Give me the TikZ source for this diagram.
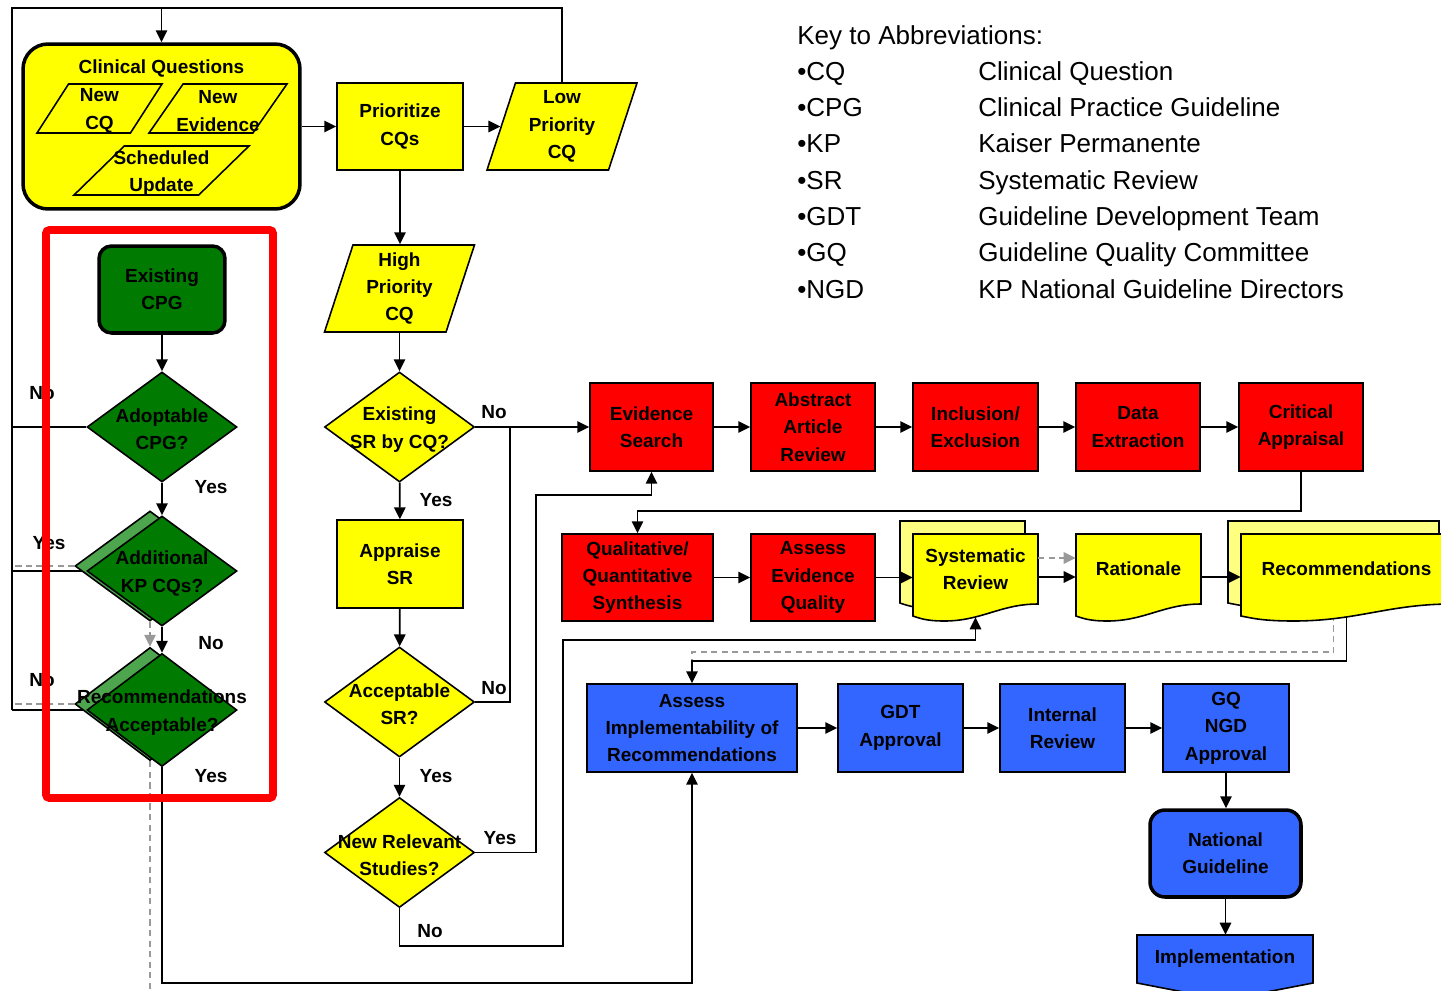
\documentclass[tikz,border=0pt]{standalone}
\usepackage{fontspec}
\setmainfont{Liberation Sans}
\usetikzlibrary{arrows.meta,shapes.geometric,backgrounds}
\definecolor{kpyellow}{RGB}{255,255,0}
\definecolor{kpyellowlt}{RGB}{255,255,128}
\definecolor{kpred}{RGB}{255,0,0}
\definecolor{kpgreen}{RGB}{0,122,0}
\definecolor{kpgreenlt}{RGB}{77,166,77}
\definecolor{kpblue}{RGB}{51,102,255}
\newcommand{\boxfont}{\fontsize{10.8}{15.6}\selectfont\bfseries}
\newcommand{\keyfont}{\fontsize{14.8}{20.6}\selectfont}
% document shape: left, top, width, fill
\newcommand{\docshape}[4]{%
  \filldraw[fill=#4,line width=0.9pt] (#1,#2) -- (#1+#3,#2) -- (#1+#3,#2+70)
    .. controls (#1+0.7*#3,#2+70) and (#1+0.55*#3,#2+87) .. (#1+0.25*#3,#2+87)
    .. controls (#1+0.1*#3,#2+87) and (#1+0.05*#3,#2+84) .. (#1,#2+82) -- cycle;}
\tikzstyle{proc box}=[rectangle,draw,line width=0.9pt,minimum width=2.5cm,minimum height=1.76cm,align=center,font=\boxfont,inner sep=1pt]
\tikzstyle{yellow box}=[proc box,fill=kpyellow]
\tikzstyle{red box}=[proc box,fill=kpred]
\tikzstyle{blue box}=[proc box,fill=kpblue]
\tikzstyle{terminal}=[proc box,rounded corners=0.25cm,line width=2pt]
\tikzstyle{data slant}=[trapezium,trapezium stretches=true,draw,line width=0.9pt,fill=kpyellow,inner sep=2pt,minimum width=3cm,minimum height=1.74cm,trapezium left angle=73,trapezium right angle=107]
\tikzstyle{decision}=[diamond,draw,line width=0.9pt,inner sep=1pt,minimum width=3cm,minimum height=2.2cm]
\tikzstyle{inner text}=[font=\boxfont,align=center,inner sep=0pt]
\tikzstyle{answer}=[font=\boxfont,inner sep=0pt]
\tikzstyle{key text}=[font=\keyfont,anchor=base west,inner sep=0pt]
\tikzstyle{edge}=[draw,line width=1pt,->]
\tikzstyle{plain edge}=[draw,line width=1pt,-]
\tikzstyle{gray line}=[draw,black!40,line width=1pt,dash pattern=on 3.5pt off 2.5pt]
\tikzstyle{gray edge}=[gray line,->]
\tikzstyle{red frame}=[draw=kpred,line width=4.5pt,rounded corners=2pt]

\begin{document}
\begin{tikzpicture}[x=0.02cm,y=-0.02cm,>={Triangle[length=6.8pt,width=6.5pt]}]
  \useasboundingbox (0,0) rectangle (1441,991);
  % clinical questions
  \node[terminal,fill=kpyellow,rounded corners=0.5cm,minimum width=5.54cm,minimum height=3.3cm] (clinq) at (161.5,126.5) {};
  \node[inner text] (cqtitle) at (161.5,68) {Clinical Questions};
  \node[data slant,minimum width=2.5cm,minimum height=0.98cm,trapezium left angle=63,trapezium right angle=117,label={[inner text,yshift=-0.05cm]center:New\\CQ}] (newcq) at (99.5,108.5) {};
  \node[data slant,minimum width=2.76cm,minimum height=0.98cm,trapezium left angle=64,trapezium right angle=116,label={[inner text,yshift=-0.05cm]center:New\\Evidence}] (newev) at (218,108.5) {};
  \node[data slant,minimum width=3.5cm,minimum height=0.98cm,trapezium left angle=56,trapezium right angle=124,label={[inner text,yshift=-0.05cm]center:Scheduled\\Update}] (sched) at (161.5,170.5) {};
  \node[yellow box,minimum width=2.52cm,minimum height=1.74cm] (prior) at (400,126.5) {Prioritize\\CQs};
  \node[data slant,label={[inner text]center:Low\\Priority\\CQ}] (lowp) at (562,126.5) {};
  \node[data slant,label={[inner text]center:High\\Priority\\CQ}] (highp) at (399.5,288.5) {};
  % existing SR
  \node[decision,fill=kpyellow,label={[inner text,yshift=-0.05cm]center:Existing\\SR by CQ?}] (exsr) at (399.5,427) {};
  \node[yellow box,minimum width=2.52cm] (appr) at (400,564) {Appraise\\SR};
  \node[decision,fill=kpyellow,label={[inner text,yshift=-0.05cm]center:Acceptable\\SR?}] (accsr) at (399.5,702) {};
  \node[decision,fill=kpyellow,label={[inner text,yshift=-0.05cm]center:New Relevant\\Studies?}] (newrel) at (399.5,852.5) {};
  % existing CPG
  \node[terminal,fill=kpgreen,minimum width=2.52cm,minimum height=1.74cm] (excpg) at (162,289.5) {Existing\\CPG};
  \node[decision,fill=kpgreen,label={[inner text,yshift=-0.05cm]center:Adoptable\\CPG?}] (adopt) at (162,427) {};
  \node[decision,fill=kpgreenlt] (addsh) at (150,566) {};
  \node[decision,fill=kpgreen,label={[inner text,yshift=-0.05cm]center:Additional\\KP CQs?}] (addkp) at (162,571) {};
  \node[decision,fill=kpgreenlt,minimum height=2.26cm] (recsh) at (150,704) {};
  \node[decision,fill=kpgreen,minimum height=2.26cm,label={[inner text,yshift=-0.05cm]center:Recommendations\\Acceptable?}] (recacc) at (162,710) {};
  % evidence review
  \node[red box,minimum width=2.46cm] (evs) at (651.5,427) {Evidence\\Search};
  \node[red box,minimum width=2.48cm] (abs) at (813,427) {Abstract\\Article\\Review};
  \node[red box] (incl) at (975.5,427) {Inclusion/\\Exclusion};
  \node[red box,minimum width=2.48cm] (data) at (1138,427) {Data\\Extraction};
  \node[red box,minimum width=2.48cm] (crit) at (1301,427) {Critical\\Appraisal};
  \node[red box,minimum width=3.02cm,minimum height=1.74cm] (synth) at (637.5,577.5) {Qualitative/\\Quantitative\\Synthesis};
  \node[red box,minimum width=2.48cm,minimum height=1.74cm] (aeq) at (813,577.5) {Assess\\Evidence\\Quality};
  \docshape{900}{521}{125}{kpyellowlt}
  \docshape{913}{534}{125}{kpyellow}
  \node[inner text,minimum width=2.5cm,minimum height=1.4cm] (sysrev) at (975.5,569) {Systematic\\Review};
  \docshape{1076}{534}{125}{kpyellow}
  \node[inner text,minimum width=2.5cm,minimum height=1.4cm] (rat) at (1138.5,569) {Rationale};
  \begin{scope}
    \clip (0,0) rectangle (1441,991);
    \docshape{1228}{521}{211}{kpyellowlt}
    \docshape{1241}{534}{211}{kpyellow}
    \filldraw[fill=kpblue,line width=0.9pt] (1137,935) -- (1313,935) -- (1313,983) -- (1225,1000) -- (1137,983) -- cycle;
  \end{scope}
  \node[inner text,minimum width=4.22cm,minimum height=1.4cm] (recs) at (1346.5,569) {Recommendations};
  % approval
  \node[blue box,minimum width=4.2cm] (impl) at (692,728) {Assess\\Implementability of\\Recommendations};
  \node[blue box] (gdt) at (900.5,728) {GDT\\Approval};
  \node[blue box] (intrev) at (1062.5,728) {Internal\\Review};
  \node[blue box,minimum width=2.52cm] (gqngd) at (1226,728) {GQ\\NGD\\Approval};
  \node[terminal,fill=kpblue,rounded corners=0.3cm,minimum width=3.02cm,minimum height=1.74cm] (natg) at (1225.5,853.5) {National\\Guideline};
  \node[inner text,minimum width=3.52cm,minimum height=0.96cm] (implm) at (1225,959) {Implementation};
  % answers
  \node[answer] (no1) at (42,393) {No};
  \node[answer] (yes1) at (211,487) {Yes};
  \node[answer] (yes2) at (49,543) {Yes};
  \node[answer] (no2) at (211,643) {No};
  \node[answer] (no3) at (42,680) {No};
  \node[answer] (yes3) at (211,776) {Yes};
  \node[answer] (no4) at (494,412) {No};
  \node[answer] (yes4) at (436,500) {Yes};
  \node[answer] (no5) at (494,688) {No};
  \node[answer] (yes5) at (436,776) {Yes};
  \node[answer] (yes6) at (500,838) {Yes};
  \node[answer] (no6) at (430,931) {No};
  % key
  \node[key text] (keyhead) at (797,44) {Key to Abbreviations:};
  \node[key text] (abcq) at (797,80) {•CQ};
  \node[key text] (decq) at (978,80) {Clinical Question};
  \node[key text] (abcpg) at (797,116) {•CPG};
  \node[key text] (decpg) at (978,116) {Clinical Practice Guideline};
  \node[key text] (abkp) at (797,152) {•KP};
  \node[key text] (dekp) at (978,152) {Kaiser Permanente};
  \node[key text] (absr) at (797,189) {•SR};
  \node[key text] (desr) at (978,189) {Systematic Review};
  \node[key text] (abgdt) at (797,225) {•GDT};
  \node[key text] (degdt) at (978,225) {Guideline Development Team};
  \node[key text] (abgq) at (797,261) {•GQ};
  \node[key text] (degq) at (978,261) {Guideline Quality Committee};
  \node[key text] (abngd) at (797,298) {•NGD};
  \node[key text] (dengd) at (978,298) {KP National Guideline Directors};

  \begin{scope}[on background layer]
    % loop back to clinical questions
    \coordinate (tl) at (12,8);
    \draw[edge] (lowp.north -| lowp.center) |- (tl -| clinq.north) -- (clinq.north);
    \draw[plain edge] (tl -| clinq.north) -- (tl) -- (tl |- recacc.west);
    \draw[plain edge] (adopt.west) -- (adopt.west -| tl);
    \draw[plain edge] (addkp.west) -- (addkp.west -| tl);
    \draw[plain edge] (recacc.west) -- (recacc.west -| tl);
    \draw[gray line] (addsh.west) -- (addsh.west -| tl);
    \draw[gray line] (recsh.west) -- (recsh.west -| tl);
    \draw[gray edge] (addsh.south) -- (recsh.north);
    \draw[gray line] (recsh.south) -- ++(0,240);
    \draw[edge] (excpg) -- (adopt);
    \draw[edge] (adopt) -- (addkp);
    \draw[edge] (addkp) -- (recacc);
    \draw[edge] (recacc.south) -- ++(0,216) -| (impl.south);
    % priority
    \draw[edge] (clinq) -- (prior);
    \draw[edge] (prior) -- (lowp);
    \draw[edge] (prior) -- (prior |- highp.north);
    \draw[edge] (highp.south -| exsr) -- (exsr);
    \draw[edge] (exsr) -- (evs);
    \draw[edge] (exsr) -- (appr);
    \draw[edge] (appr) -- (accsr);
    \draw[edge] (accsr) -- (newrel);
    \coordinate (nojoin) at (510,427);
    \draw[plain edge] (accsr.east) -| (nojoin);
    \draw[edge] (newrel.east) -| (536,495) -| (evs.south);
    \draw[edge] (newrel.south) -- ++(0,38) -| (563,640) -| ([yshift=-0.26cm]sysrev.south);
    % evidence review
    \draw[edge] (evs) -- (abs);
    \draw[edge] (abs) -- (incl);
    \draw[edge] (incl) -- (data);
    \draw[edge] (data) -- (crit);
    \draw[edge] (crit.south) -- ++(0,39) -| (synth.north);
    \draw[edge] (synth) -- (aeq);
    \draw[edge] (recs.south) -- ++(0,57) -| (impl.north);
    \draw[gray line] ([xshift=-0.26cm]recs.south) -- ++(0,48) -| ([yshift=0.46cm]impl.north);
    % approval
    \draw[edge] (impl) -- (gdt);
    \draw[edge] (gdt) -- (intrev);
    \draw[edge] (intrev) -- (gqngd);
    \draw[edge] (gqngd) -- (gqngd |- natg.north);
    \draw[edge] (natg) -- (natg |- implm.north);
  \end{scope}
  \draw[edge] (aeq.east) -- (aeq.east -| sysrev.west);
  \draw[edge] ([yshift=-0.16cm]sysrev.east) -- ([yshift=-0.16cm]rat.west);
  \draw[gray edge] ([yshift=0.22cm]sysrev.east) -- ([yshift=0.22cm]rat.west);
  \draw[edge] ([yshift=-0.16cm]rat.east) -- ([yshift=-0.16cm]recs.west);
  \draw[red frame] (46,230) rectangle (273,798);
\end{tikzpicture}
\end{document}
